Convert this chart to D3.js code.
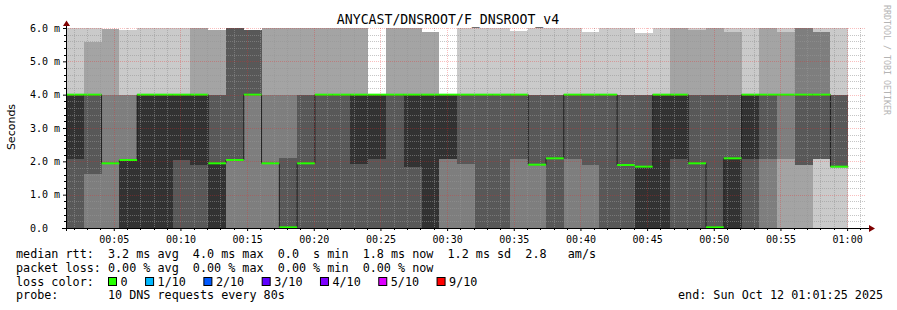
<!DOCTYPE html>
<html><head><meta charset="utf-8">
<script src="https://cdn.jsdelivr.net/npm/d3@7"></script>
<style>
body{margin:0;background:#fff}
svg{display:block}
text{font-family:"DejaVu Sans Mono",monospace;white-space:pre}
</style>
</head><body>
<svg id="chart" width="897" height="310"></svg>
<script>
// ---------- data ----------
const title = "ANYCAST/DNSROOT/F_DNSROOT_v4";
const startTime = "2025-10-12T00:01:25Z";
const endTime = "2025-10-12T01:01:25Z";
const stepSeconds = 80;
// 10 sorted DNS round-trip times per 80 s step (ms), values above 6 ms are clipped
const pings = [
  [0,0,0,0,2.07,4,4,4,4,6],
  [0,0,0,1.61,4,4,4,4,5.59,6],
  [0,0,0,1.94,1.94,1.94,1.94,4,5.96,5.96],
  [0,0,0,0,0,2.04,2.04,4,4,5.95],
  [0,0,0,0,0,4,4,4,4,6],
  [0,0,0,0,0,4,4,4,4,6],
  [0,0,0,0,2.04,4,4,4,4,6],
  [0,0,0,0,1.9,4,4,4,6,6],
  [0,0,0,0,0,1.94,4,4,5.95,5.95],
  [0,0,0,2.07,2.07,2.07,6,6,6,6],
  [0,0,0,4,4,4,5.94,5.94,5.94,5.94],
  [0,0,0,1.94,1.94,1.94,1.94,4,6,6],
  [0,0,0,0,0,0,2.1,4,6,6],
  [0,0,0,0,1.94,1.94,4,4,6,6],
  [0,0,0,0,4,4,4,4,6,6],
  [0,0,0,0,4,4,4,4,6,6],
  [0,0,0,0,1.91,4,4,4,6,6],
  [0,0,0,0,2.07,4,4,4,4,4],
  [0,0,0,0,4,4,4,4,6,6],
  [0,0,0,0,1.84,4,4,4,6,6],
  [0,0,0,0,0,4,4,4,5.88,5.88],
  [0,0,0,2.07,2.07,4,4,4,4,4],
  [0,0,0,1.92,4,4,4,4,4,6],
  [0,0,0,0,4,4,4,4,4,6],
  [0,0,0,0,4,4,4,4,4,6],
  [0,0,0,2.07,4,4,4,4,4,5.9],
  [0,0,0,1.9,1.9,1.9,4,4,4,6],
  [0,0,0,0,2.09,2.09,4,4,4,6],
  [0,0,0,2.07,4,4,4,4,4,6],
  [0,0,0,1.89,4,4,4,4,4,5.88],
  [0,0,0,0,4,4,4,4,4,6],
  [0,0,0,0,1.89,1.89,4,4,4,6],
  [0,0,0,0,0,1.84,4,4,4,5.86],
  [0,0,0,0,0,4,4,4,4,6],
  [0,0,0,0,2.07,4,4,4,6,6],
  [0,0,0,0,1.94,1.94,4,4,5.95,6],
  [0,0,0,0,0.02,0.02,4,4,6,6],
  [0,0,0,0,0,2.09,4,4,5.88,6],
  [0,0,0,0,2.07,4,4,4,4,6],
  [0,0,0,2.07,4,4,4,4,6,6],
  [0,0,2.07,4,4,4,4,4,5.88,6],
  [0,0,1.89,1.89,4,4,4,6,6,6],
  [0,2.07,2.07,2.07,4,4,4,5.88,5.88,6],
  [0,1.84,1.84,1.84,1.84,1.84,4,4,4,6]
];
const median = [4,4,1.94,2.04,4,4,4,4,1.94,2.04,4,1.94,0.02,1.94,4,4,4,4,4,4,4,4,
  4,4,4,4,1.9,2.09,4,4,4,1.89,1.84,4,4,1.94,0.02,2.09,4,4,4,4,4,1.84];
const yTicks = [0,1,2,3,4,5,6];
const yTickLabels = ["0.0","1.0 m","2.0 m","3.0 m","4.0 m","5.0 m","6.0 m"];
const yLabel = "Seconds";
const smokeColors = ["#cacaca","#a4a4a4","#7e7e7e","#585858","#323232"];
const lossLabels = ["0","1/10","2/10","3/10","4/10","5/10","9/10"];
const lossColors = ["#26ff00","#00b8ff","#0059ff","#5e00ff","#7e00ff","#dd00ff","#ff0000"];
const legendLines = [
  "median rtt:  3.2 ms avg  4.0 ms max  0.0  s min  1.8 ms now  1.2 ms sd  2.8   am/s",
  "packet loss: 0.00 % avg  0.00 % max  0.00 % min  0.00 % now",
  "loss color:",
  "probe:       10 DNS requests every 80s"
];
const endLabel = "end: Sun Oct 12 01:01:25 2025";
const watermark = "RRDTOOL / TOBI OETIKER";

// ---------- layout ----------
const L = 66, R = 866, T = 28, B = 228;
const svg = d3.select("#chart");
const t0 = new Date(startTime), t1 = new Date(endTime);
const x = d3.scaleUtc().domain([t0, t1]).range([L, R]);
const y = d3.scaleLinear().domain([0, 6]).range([B, T]);

const rows = pings.map((p, i) => ({t: new Date(+t0 + i * stepSeconds * 1000), p, m: median[i]}));
rows.push({t: new Date(+t0 + pings.length * stepSeconds * 1000), p: pings[pings.length-1], m: median[median.length-1]});

svg.append("defs").append("clipPath").attr("id","clip")
  .append("rect").attr("x", L).attr("y", T).attr("width", R - L).attr("height", B - T);

const plot = svg.append("g").attr("clip-path","url(#clip)");

// smoke layers
for (let k = 0; k < 5; k++) {
  const area = d3.area().curve(d3.curveStepAfter)
    .x(d => x(d.t)).y0(d => y(d.p[k])).y1(d => y(d.p[9-k]));
  plot.append("path").datum(rows).attr("d", area)
    .attr("fill", smokeColors[k]).attr("shape-rendering","crispEdges");
}

// grid
const grid = svg.append("g");
const minutes = d3.utcMinute.range(t0, t1);
const minorX = minutes.filter(d => d.getUTCMinutes() % 5 !== 0);
const majorX = minutes.filter(d => d.getUTCMinutes() % 5 === 0);
const minorY = d3.range(1, 30).map(i => i / 5).filter(v => Math.abs(v - Math.round(v)) > 1e-6);
const minorCol = "rgba(150,150,150,0.55)", majorCol = "rgba(235,40,40,0.3)";
grid.selectAll(".gx").data(minorX).join("line")
  .attr("x1", d => Math.round(x(d)) + 0.5).attr("x2", d => Math.round(x(d)) + 0.5)
  .attr("y1", T).attr("y2", B).attr("stroke", minorCol).attr("stroke-dasharray","1,1");
grid.selectAll(".gy").data(minorY).join("line")
  .attr("x1", L).attr("x2", R)
  .attr("y1", d => Math.round(y(d)) + 0.5).attr("y2", d => Math.round(y(d)) + 0.5)
  .attr("stroke", minorCol).attr("stroke-dasharray","1,1");
grid.selectAll(".mx").data(majorX).join("line")
  .attr("x1", d => Math.round(x(d)) + 0.5).attr("x2", d => Math.round(x(d)) + 0.5)
  .attr("y1", T).attr("y2", B).attr("stroke", majorCol).attr("stroke-dasharray","1,1");
grid.selectAll(".my").data(yTicks).join("line")
  .attr("x1", L).attr("x2", R)
  .attr("y1", d => Math.round(y(d)) + 0.5).attr("y2", d => Math.round(y(d)) + 0.5)
  .attr("stroke", majorCol).attr("stroke-dasharray","1,1");

// median line (black step) + loss-colour segments
const medLine = d3.line().curve(d3.curveStepAfter).x(d => x(d.t)).y(d => y(d.m));
plot.append("path").datum(rows).attr("d", medLine)
  .attr("fill","none").attr("stroke","#202020").attr("stroke-width",1);
plot.selectAll(".seg").data(rows.slice(0, -1)).join("line")
  .attr("x1", d => x(d.t)).attr("x2", (d, i) => x(rows[i+1].t))
  .attr("y1", d => y(d.m)).attr("y2", d => y(d.m))
  .attr("stroke", lossColors[0]).attr("stroke-width", 2);

// axes
const xAxis = d3.axisBottom(x).tickValues(majorX.filter(d => +d > +t0))
  .tickFormat(d3.utcFormat("%H:%M")).tickSize(3).tickPadding(5);
const gx = svg.append("g").attr("transform", `translate(0,${B})`).call(xAxis);
gx.select(".domain").remove();
gx.selectAll("text").attr("font-size", 10).attr("fill","#000").style("font-family","DejaVu Sans Mono");
gx.selectAll(".tick line").attr("stroke","#000");
svg.append("g").selectAll("line").data(minorX).join("line")
  .attr("x1", d => Math.round(x(d)) + 0.5).attr("x2", d => Math.round(x(d)) + 0.5)
  .attr("y1", B).attr("y2", B + 2).attr("stroke","#000");

const yAxis = d3.axisLeft(y).tickValues(yTicks).tickFormat((d, i) => yTickLabels[i]).tickSize(3).tickPadding(3);
const gy = svg.append("g").attr("transform", `translate(${L},0)`).call(yAxis);
gy.select(".domain").remove();
gy.selectAll(".tick line").attr("stroke","#000");
gy.selectAll("text").attr("font-size", 10).attr("fill","#000").attr("text-anchor","start")
  .attr("x", -36).style("font-family","DejaVu Sans Mono");
svg.append("g").selectAll("line").data(minorY).join("line")
  .attr("x1", L - 2).attr("x2", L)
  .attr("y1", d => Math.round(y(d)) + 0.5).attr("y2", d => Math.round(y(d)) + 0.5).attr("stroke","#000");

// axis lines + arrows
svg.append("line").attr("x1", 62).attr("x2", 869).attr("y1", B + 0.5).attr("y2", B + 0.5).attr("stroke","#000");
svg.append("line").attr("x1", L + 0.5).attr("x2", L + 0.5).attr("y1", 25).attr("y2", B + 3).attr("stroke","#000");
svg.append("path").attr("d", `M${L+0.5},20.5 L${L-3},26 L${L+4},26 Z`).attr("fill","#7f0000");
svg.append("path").attr("d", `M875,${B+0.5} L869,${B-3} L869,${B+4} Z`).attr("fill","#7f0000");

// title, labels
svg.append("text").attr("x", 448).attr("y", 23.5).attr("text-anchor","middle")
  .attr("font-size", 13.2).attr("fill","#000").text(title);
svg.append("text").attr("transform","translate(15,127) rotate(-90)").attr("text-anchor","middle")
  .style("font-family","'DejaVu Sans',sans-serif").attr("font-size", 11).attr("fill","#000").text(yLabel);
svg.append("text").attr("transform","translate(884,5) rotate(90)").attr("text-anchor","start")
  .attr("font-size", 8.3).attr("fill","#b4b4b4").text(watermark);

// legend
const lg = svg.append("g").attr("font-size", 11.75).attr("fill","#000");
const baselines = [258, 271.7, 285.5, 299];
legendLines.forEach((s, i) => lg.append("text").attr("x", 16).attr("y", baselines[i]).text(s));
lg.append("text").attr("x", 678).attr("y", baselines[3]).text(endLabel);
let bx = 108.5;
lossLabels.forEach((lab, i) => {
  lg.append("rect").attr("x", bx).attr("y", baselines[2] - 8).attr("width", 8).attr("height", 8)
    .attr("fill", lossColors[i]).attr("stroke","#000").attr("stroke-width",1);
  const t = lg.append("text").attr("x", bx + 12).attr("y", baselines[2]).text(lab);
  bx += 12 + t.node().getComputedTextLength() + 18;
});
</script>
</body></html>
